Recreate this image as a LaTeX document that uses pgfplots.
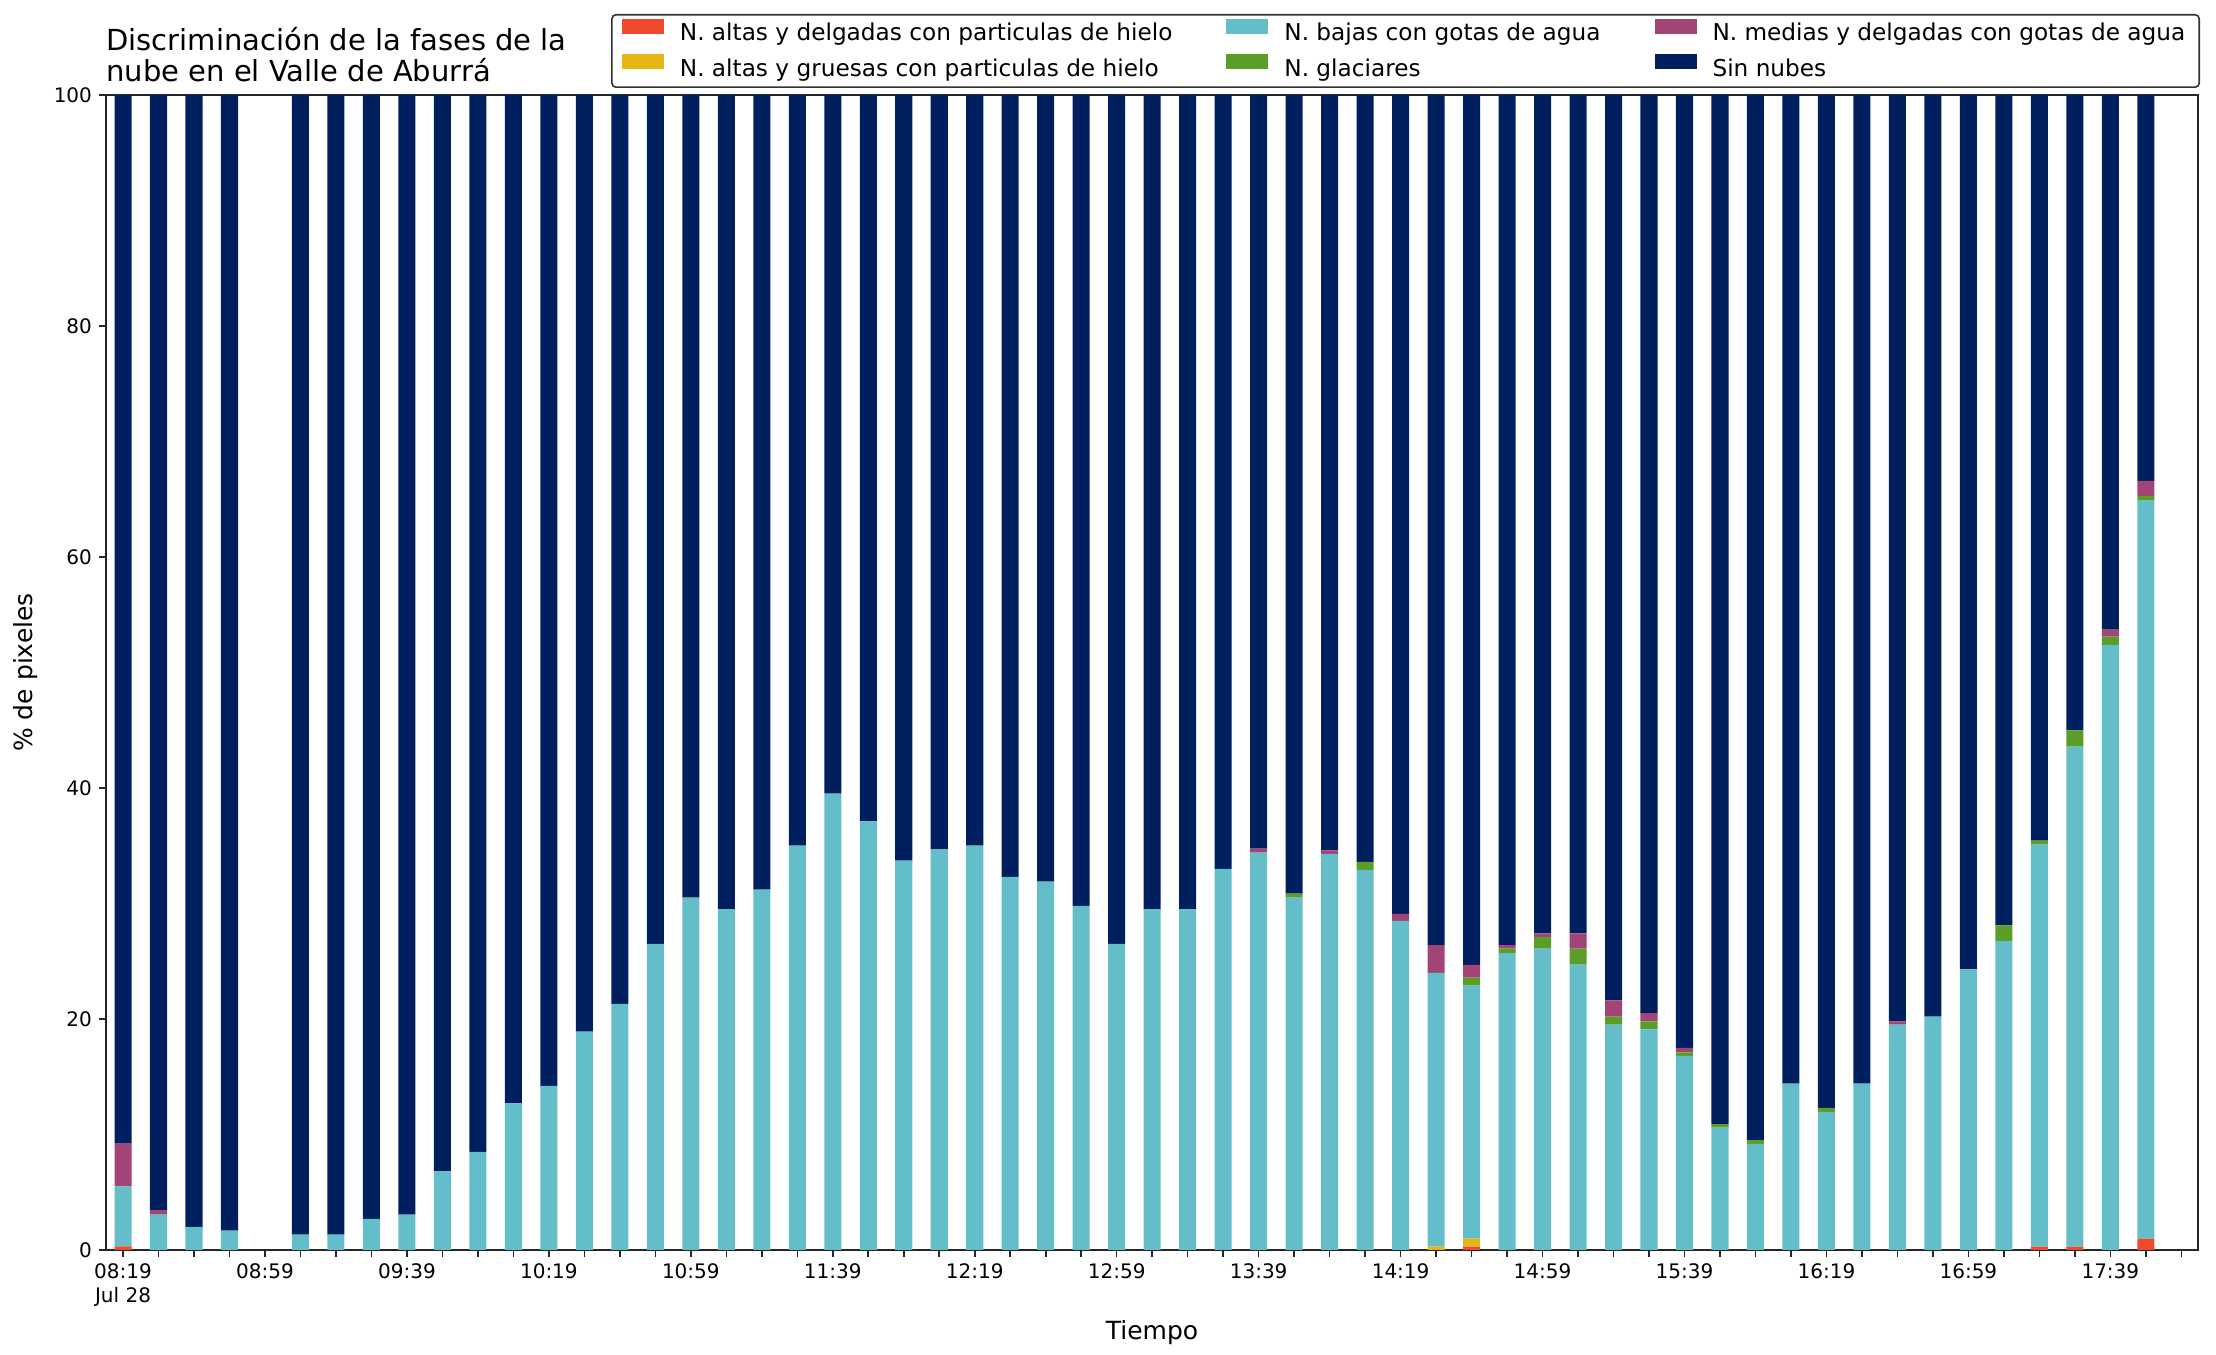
\documentclass[border=0pt]{standalone}
\usepackage{fontspec}
\setmainfont{DejaVu Sans}
\usepackage{pgfplots}
\usepackage{pgfplotstable}
\pgfplotsset{compat=1.18}

\definecolor{cRed}{RGB}{240,74,44}
\definecolor{cYel}{RGB}{228,183,21}
\definecolor{cCya}{RGB}{100,190,201}
\definecolor{cGre}{RGB}{90,158,40}
\definecolor{cPur}{RGB}{162,68,118}
\definecolor{cNav}{RGB}{0,31,95}

% % of pixels per class, one row per 10-min slot (slot 4 = 08:59 has no data)
\pgfplotstableread{
x r y c g p n
0 0.3 0 5.2 0 3.7 90.8
1 0 0 3.05 0 0.35 96.6
2 0 0 2.0 0 0 98.0
3 0 0 1.67 0 0 98.33
5 0 0 1.33 0 0 98.67
6 0 0 1.33 0 0 98.67
7 0 0 2.7 0 0 97.3
8 0 0 3.05 0 0 96.95
9 0 0 6.8 0 0 93.2
10 0 0 8.5 0 0 91.5
11 0 0 12.7 0 0 87.3
12 0 0 14.2 0 0 85.8
13 0 0 18.9 0 0 81.1
14 0 0 21.3 0 0 78.7
15 0 0 26.5 0 0 73.5
16 0 0 30.5 0 0 69.5
17 0 0 29.5 0 0 70.5
18 0 0 31.2 0 0 68.8
19 0 0 35.0 0 0 65.0
20 0 0 39.5 0 0 60.5
21 0 0 37.1 0 0 62.9
22 0 0 33.7 0 0 66.3
23 0 0 34.7 0 0 65.3
24 0 0 35.0 0 0 65.0
25 0 0 32.3 0 0 67.7
26 0 0 31.9 0 0 68.1
27 0 0 29.8 0 0 70.2
28 0 0 26.5 0 0 73.5
29 0 0 29.5 0 0 70.5
30 0 0 29.5 0 0 70.5
31 0 0 33.0 0 0 67.0
32 0 0 34.4 0 0.35 65.25
33 0 0 30.5 0.35 0 69.15
34 0 0 34.3 0 0.3 65.4
35 0 0 32.9 0.7 0 66.4
36 0 0 28.5 0 0.6 70.9
37 0 0.29 23.7 0 2.4 73.61
38 0.29 0.69 21.9 0.7 1.1 75.32
39 0 0 25.7 0.4 0.3 73.6
40 0 0 26.1 1.0 0.3 72.6
41 0 0 24.7 1.4 1.3 72.6
42 0 0 19.5 0.7 1.4 78.4
43 0 0 19.1 0.7 0.7 79.5
44 0 0 16.8 0.3 0.4 82.5
45 0 0 10.6 0.3 0 89.1
46 0 0 9.18 0.34 0 90.48
47 0 0 14.4 0 0 85.6
48 0 0 11.95 0.35 0 87.7
49 0 0 14.4 0 0 85.6
50 0 0 19.5 0 0.3 80.2
51 0 0 20.2 0 0 79.8
52 0 0 24.3 0 0 75.7
53 0 0 26.75 1.35 0 71.9
54 0.29 0 34.8 0.35 0 64.56
55 0.29 0 43.3 1.4 0 55.01
56 0 0 52.4 0.7 0.6 46.3
57 0.98 0 63.9 0.4 1.3 33.42
}\nubes

\begin{document}
\begin{tikzpicture}
\begin{axis}[
  scale only axis,
  width=1046pt, height=577.5pt,
  ybar stacked, bar width=0.48,
  legend image code/.code={\fill[#1, sharp corners] (0pt,-0.02em) rectangle (2.1em,0.72em);},
  xmin=-0.48, xmax=58.47, ymin=0, ymax=100,
  enlargelimits=false,
  clip=false,
  axis line style={black!85, line width=0.8pt},
  tick style={black!85, line width=0.8pt},
  tick align=outside, xtick pos=bottom, ytick pos=left,
  major tick length=3.5pt,
  xtick={0,...,58},
  xticklabels={{08:19\\Jul 28},,,,08:59,,,,09:39,,,,10:19,,,,10:59,,,,11:39,,,,12:19,,,,12:59,,,,13:39,,,,14:19,,,,14:59,,,,15:39,,,,16:19,,,,16:59,,,,17:39,,},
  xticklabel style={align=center, font=\fontsize{10}{12}\selectfont},
  ytick={0,20,40,60,80,100},
  yticklabels={0,20,40,60,80,100},
  yticklabel style={font=\fontsize{10}{12}\selectfont},
  xlabel={Tiempo},
  xlabel style={at={(rel axis cs:0.5,0)}, anchor=base, yshift=-45pt, font=\fontsize{12.5}{15}\selectfont},
  ylabel={\% de pixeles},
  ylabel style={at={(rel axis cs:0,0.5)}, anchor=center, yshift=40pt, font=\fontsize{12.5}{15}\selectfont},
  legend columns=2, transpose legend,
  legend cell align=left,
  legend style={at={(1,1)}, anchor=south east, xshift=1pt, yshift=3.5pt,
    draw=black!80, line width=0.8pt, rounded corners=2pt,
    font=\fontsize{11.6}{13.9}\selectfont,
    inner xsep=5pt, inner ysep=2pt, row sep=3.5pt,
    /tikz/every odd column/.append style={column sep=6pt},
    /tikz/every even column/.append style={column sep=2.5em}},
]
\addplot[fill=cRed, draw=none] table[x=x, y=r] {\nubes};
\addplot[fill=cYel, draw=none] table[x=x, y=y] {\nubes};
\addplot[fill=cCya, draw=none] table[x=x, y=c] {\nubes};
\addplot[fill=cGre, draw=none] table[x=x, y=g] {\nubes};
\addplot[fill=cPur, draw=none] table[x=x, y=p] {\nubes};
\addplot[fill=cNav, draw=none] table[x=x, y=n] {\nubes};
\legend{N. altas y delgadas con particulas de hielo,
  N. altas y gruesas con particulas de hielo,
  N. bajas con gotas de agua,
  N. glaciares,
  N. medias y delgadas con gotas de agua,
  Sin nubes}
\coordinate (bl) at (rel axis cs:0,0);
\coordinate (tr) at (rel axis cs:1,1);
\node[anchor=south west, inner sep=0pt, align=left, font=\fontsize{14.5}{15.5}\selectfont]
  at ([yshift=6.5pt]rel axis cs:0,1) {Discriminación de la fases de la\\nube en el Valle de Aburrá};
\end{axis}
\pgfresetboundingbox
\path ([shift={(-53pt,-52.5pt)}]bl) rectangle ([shift={(9pt,47.5pt)}]tr);
\end{tikzpicture}
\end{document}
